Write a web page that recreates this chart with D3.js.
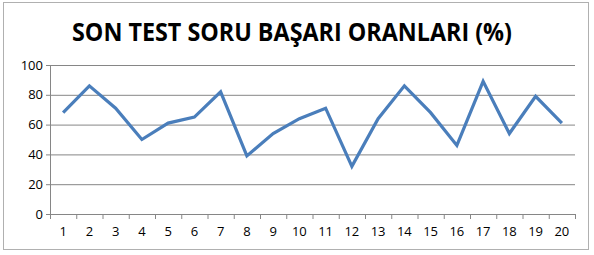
<!DOCTYPE html>
<html>
<head>
<meta charset="utf-8">
<script src="https://cdn.jsdelivr.net/npm/d3@7"></script>
<style>
  body { margin: 0; background: #fff; }
  text { font-family: "Open Sans", sans-serif; }
</style>
</head>
<body>
<div id="chart"></div>
<script>
var questions = ["1","2","3","4","5","6","7","8","9","10","11","12","13","14","15","16","17","18","19","20"];
var rates     = [68, 86, 71, 50, 61, 65, 82, 39, 54, 64, 71, 32, 64, 86, 68, 46, 89, 54, 79, 61];
var yTicks    = [0, 20, 40, 60, 80, 100];
var title     = "SON TEST SORU BAŞARI ORANLARI (%)";

var width  = 594;
var height = 255;
var margin = { top: 65, right: 19, bottom: 41, left: 50 };

var svg = d3.select("#chart")
    .append("svg")
    .attr("width", width)
    .attr("height", height);

// chart border
svg.append("rect")
    .attr("x", 3.5).attr("y", 2.5)
    .attr("width", 585).attr("height", 247)
    .attr("fill", "#fff")
    .attr("stroke", "#b0b0b0");

svg.append("text")
    .attr("x", 292).attr("y", 41)
    .attr("text-anchor", "middle")
    .attr("font-weight", "bold")
    .attr("font-size", 25)
    .attr("textLength", 440)
    .attr("lengthAdjust", "spacingAndGlyphs")
    .text(title);

var x = d3.scaleBand()
    .domain(questions)
    .range([margin.left, width - margin.right]);

var y = d3.scaleLinear()
    .domain([0, 100])
    .range([height - margin.bottom, margin.top]);

// gridlines + y axis
var yAxis = svg.append("g")
    .attr("transform", "translate(" + margin.left + ",0)")
    .call(d3.axisLeft(y).tickValues(yTicks)
        .tickSize(-(width - margin.left - margin.right))
        .tickPadding(7));
yAxis.select(".domain").attr("stroke", "#868686");
yAxis.selectAll(".tick line").attr("stroke", "#868686").attr("x1", -4);
yAxis.selectAll(".tick text").attr("font-size", 13).attr("fill", "#000")
    .style("font-family", '"Open Sans", sans-serif');

// x axis
var xAxis = svg.append("g")
    .attr("transform", "translate(0," + y(0) + ")")
    .call(d3.axisBottom(x).tickSize(0).tickPadding(13));
xAxis.select(".domain").attr("stroke", "#868686");
xAxis.selectAll(".tick text").attr("font-size", 13).attr("fill", "#000")
    .style("font-family", '"Open Sans", sans-serif');

// category boundary ticks
var bounds = questions.map(function (d) { return x(d); }).concat([width - margin.right]);
svg.append("g").selectAll("line")
    .data(bounds)
    .enter()
    .append("line")
    .attr("x1", function (d) { return d + 0.5; })
    .attr("x2", function (d) { return d + 0.5; })
    .attr("y1", y(0))
    .attr("y2", y(0) + 5)
    .attr("stroke", "#868686");

var line = d3.line()
    .x(function (d, i) { return x(questions[i]) + x.bandwidth() / 2; })
    .y(function (d) { return y(d); });

svg.append("path")
    .datum(rates)
    .attr("d", line)
    .attr("fill", "none")
    .attr("stroke", "#4a7ebb")
    .attr("stroke-width", 3.2)
    .attr("stroke-linejoin", "miter");
</script>
</body>
</html>
